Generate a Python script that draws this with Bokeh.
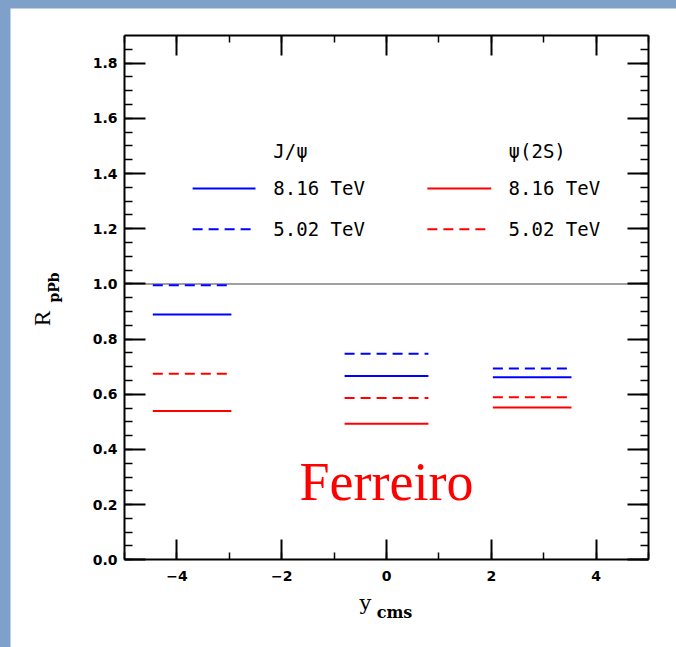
from bokeh.plotting import figure
from bokeh.models import Range1d, LinearAxis, SingleIntervalTicker, Label, ColumnDataSource, PrintfTickFormatter
from bokeh.layouts import column
from bokeh.core.properties import value
from bokeh.embed import file_html
from bokeh.resources import INLINE
import math

# ---- data ----
bin_lo = [-4.46, -0.80, 2.03]
bin_hi = [-2.96, 0.80, 3.53]
jpsi_816 = [0.889, 0.666, 0.662]
jpsi_502 = [0.995, 0.747, 0.693]
psi2s_816 = [0.539, 0.493, 0.552]
psi2s_502 = [0.674, 0.586, 0.589]

x_ticks = [-4, -2, 0, 2, 4]
y_ticks = [0.0, 0.2, 0.4, 0.6, 0.8, 1.0, 1.2, 1.4, 1.6, 1.8]
x_lim = [-5.0, 5.0]
y_lim = [0.0, 1.9]
ref_level = [1.0, 1.0]

# legend layout (data coordinates)
leg_x0 = [-3.70, 0.78]
leg_x1 = [-2.50, 2.00]
leg_text_x = [-2.16, 2.33]
leg_y_solid = 1.346
leg_y_dash = 1.198
leg_head_y = 1.483
heads = ["J/\u03c8", "\u03c8(2S)"]

BLUE = "#0000ff"
RED = "#ff0000"

# frame covers whole canvas; axes are placed at fixed locations
p = figure(width=666, height=639, output_backend="svg", toolbar_location=None,
           x_range=Range1d(-7.1756, 5.5344), y_range=Range1d(-0.3179, 1.9982),
           x_axis_type=None, y_axis_type=None,
           min_border_left=0, min_border_right=0, min_border_top=0, min_border_bottom=0,
           background_fill_color="white", border_fill_color="white")
p.margin = (8, 0, 0, 10)
p.grid.visible = False
p.outline_line_color = None

bottom_ax = LinearAxis(fixed_location=y_lim[0], bounds=tuple(x_lim))
top_ax = LinearAxis(fixed_location=y_lim[1], bounds=tuple(x_lim))
left_ax = LinearAxis(fixed_location=x_lim[0], bounds=tuple(y_lim))
right_ax = LinearAxis(fixed_location=x_lim[1], bounds=tuple(y_lim))
p.add_layout(bottom_ax, "below")
p.add_layout(top_ax, "above")
p.add_layout(left_ax, "left")
p.add_layout(right_ax, "right")

for ax in [bottom_ax, top_ax]:
    ax.ticker = SingleIntervalTicker(interval=2, num_minor_ticks=2)
    ax.major_tick_in = 20
    ax.minor_tick_in = 7
for ax in [left_ax, right_ax]:
    ax.ticker = SingleIntervalTicker(interval=0.2, num_minor_ticks=4)
    ax.major_tick_in = 21
    ax.minor_tick_in = 8

for ax in [bottom_ax, top_ax, left_ax, right_ax]:
    ax.major_tick_out = 0
    ax.minor_tick_out = 0
    ax.axis_line_width = 2
    ax.major_tick_line_width = 2
    ax.minor_tick_line_width = 1.5
    ax.major_tick_line_color = "black"
    ax.minor_tick_line_color = "black"
    ax.axis_line_color = "black"
    ax.major_label_text_font = "DejaVu Sans"
    ax.major_label_text_font_style = "bold"
    ax.major_label_text_font_size = "14px"
    ax.major_label_text_color = "black"

for ax in [top_ax, right_ax]:
    ax.major_label_text_color = None
    ax.major_label_standoff = 0

bottom_ax.major_label_standoff = 11
left_ax.major_label_standoff = 7
bottom_ax.major_label_overrides = {t: ("\u2212%d" % -t if t < 0 else "%d" % t) for t in x_ticks}
left_ax.formatter = PrintfTickFormatter(format="%.1f")

# reference line at 1
p.line(x=x_lim, y=ref_level, line_color="#808080", line_width=1.5)

# model segments
src = ColumnDataSource(dict(lo=bin_lo, hi=bin_hi, j816=jpsi_816, j502=jpsi_502,
                            p816=psi2s_816, p502=psi2s_502))
p.segment(x0="lo", x1="hi", y0="j816", y1="j816", source=src, line_color=BLUE, line_width=2)
p.segment(x0="lo", x1="hi", y0="j502", y1="j502", source=src, line_color=BLUE, line_width=2, line_dash="10 6")
p.segment(x0="lo", x1="hi", y0="p816", y1="p816", source=src, line_color=RED, line_width=2)
p.segment(x0="lo", x1="hi", y0="p502", y1="p502", source=src, line_color=RED, line_width=2, line_dash="10 6")

# legend
leg_cols = [BLUE, RED]
p.segment(x0=leg_x0, x1=leg_x1, y0=[leg_y_solid] * 2, y1=[leg_y_solid] * 2, line_color=leg_cols, line_width=2)
p.segment(x0=leg_x0, x1=leg_x1, y0=[leg_y_dash] * 2, y1=[leg_y_dash] * 2, line_color=leg_cols, line_width=2, line_dash="10 6")
p.text(x=leg_text_x, y=[leg_y_solid] * 2, text=["8.16 TeV"] * 2, text_font=value("DejaVu Sans Mono"),
       text_font_size="19px", text_baseline="middle", text_align="left", text_color="black")
p.text(x=leg_text_x, y=[leg_y_dash] * 2, text=["5.02 TeV"] * 2, text_font=value("DejaVu Sans Mono"),
       text_font_size="19px", text_baseline="middle", text_align="left", text_color="black")
p.text(x=leg_text_x, y=[leg_head_y] * 2, text=heads, text_font=value("DejaVu Sans Mono"),
       text_font_size="19px", text_baseline="middle", text_align="left", text_color="black")

# Ferreiro
p.add_layout(Label(x=0.0, y=0.2826, text="Ferreiro", text_font="Liberation Serif", text_font_size="54px",
                   text_color=RED, text_align="center", text_baseline="middle"))

# axis titles
p.add_layout(Label(x=-6.565, y=0.875, text="R", text_font="Liberation Serif", text_font_size="23px",
                   text_align="center", text_baseline="middle", angle=math.pi / 2, text_color="black"))
p.add_layout(Label(x=-6.336, y=0.987, text="pPb", text_font="DejaVu Serif", text_font_style="bold",
                   text_font_size="14px", text_align="center", text_baseline="middle", angle=math.pi / 2,
                   text_color="black"))
p.add_layout(Label(x=-0.401, y=-0.155, text="y", text_font="DejaVu Serif", text_font_size="21px",
                   text_align="center", text_baseline="middle", text_color="black"))
p.add_layout(Label(x=0.153, y=-0.191, text="cms", text_font="DejaVu Serif", text_font_style="bold",
                   text_font_size="16px", text_align="center", text_baseline="middle", text_color="black"))

layout = column(p, styles={"background-color": "#7fa1c9"})
open("out.html", "w").write(file_html(layout, INLINE))
